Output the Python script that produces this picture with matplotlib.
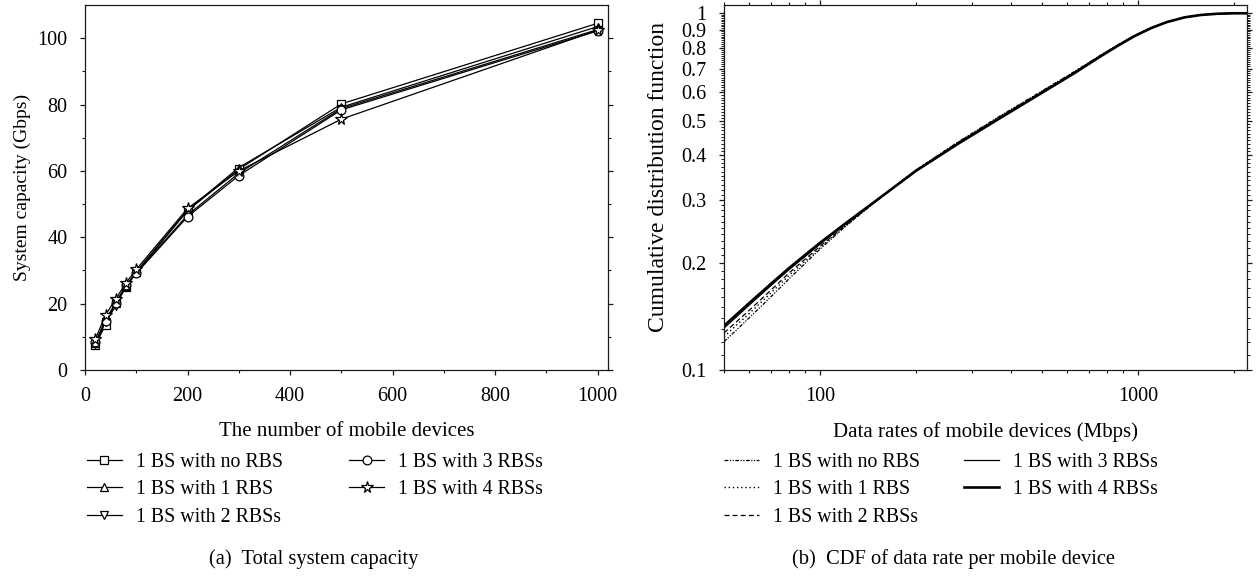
"""
重現兩張子圖：(a) 系統總容量，(b) 每個行動裝置資料率的 CDF。
"""

import matplotlib
matplotlib.use("Agg")
import matplotlib.pyplot as plt
import numpy as np
from matplotlib.ticker import FixedLocator, FixedFormatter, NullFormatter

plt.rcParams["font.family"] = ["Liberation Serif", "DejaVu Serif"]

# ---- (a) 系統總容量資料 ----
devices = [20, 40, 60, 80, 100, 200, 300, 500, 1000]
cap_no_rbs = [7.5, 13.6, 20.6, 24.9, 29.4, 48.0, 60.5, 80.2, 104.5]
cap_1_rbs = [8.0, 15.2, 20.2, 25.4, 29.6, 48.2, 61.0, 79.2, 103.5]
cap_2_rbs = [7.9, 14.4, 19.3, 25.2, 29.3, 46.7, 59.3, 78.8, 102.6]
cap_3_rbs = [8.3, 14.9, 20.1, 25.6, 29.1, 46.2, 58.6, 78.4, 102.2]
cap_4_rbs = [9.2, 16.6, 21.4, 26.3, 30.3, 48.7, 60.0, 75.6, 102.4]

# ---- (b) 資料率 CDF ----
rates = [50, 60, 70, 80, 100, 120, 150, 200, 270, 360, 475, 630, 760, 870,
         970, 1100, 1233, 1400, 1570, 1775, 2000, 2200]
cdf_no_rbs = [0.120, 0.140, 0.160, 0.180, 0.218, 0.252, 0.297, 0.363, 0.434,
              0.509, 0.590, 0.686, 0.762, 0.819, 0.865, 0.912, 0.947, 0.974,
              0.989, 0.997, 1.0, 1.0]
cdf_1_rbs = [0.124, 0.144, 0.164, 0.184, 0.220, 0.253, 0.297, 0.363, 0.433,
             0.507, 0.588, 0.684, 0.760, 0.817, 0.864, 0.911, 0.947, 0.974,
             0.989, 0.997, 1.0, 1.0]
cdf_2_rbs = [0.127, 0.147, 0.167, 0.187, 0.222, 0.254, 0.297, 0.362, 0.432,
             0.506, 0.587, 0.683, 0.759, 0.816, 0.863, 0.910, 0.946, 0.974,
             0.989, 0.997, 1.0, 1.0]
cdf_3_rbs = [0.131, 0.152, 0.172, 0.191, 0.225, 0.256, 0.298, 0.362, 0.430,
             0.503, 0.584, 0.680, 0.757, 0.815, 0.862, 0.910, 0.946, 0.974,
             0.989, 0.997, 1.0, 1.0]
cdf_4_rbs = [0.133, 0.154, 0.174, 0.193, 0.227, 0.257, 0.298, 0.361, 0.429,
             0.502, 0.583, 0.679, 0.756, 0.814, 0.861, 0.909, 0.945, 0.974,
             0.989, 0.997, 1.0, 1.0]

labels = ["1 BS with no RBS", "1 BS with 1 RBS", "1 BS with 2 RBSs",
          "1 BS with 3 RBSs", "1 BS with 4 RBSs"]
cap_markers = ["s", "^", "v", "o", "*"]
cdf_styles = [((0, (3, 1.2, 1, 1.2, 1, 1.2)), 0.9), ((0, (1, 2)), 1.0),
              ((0, (4, 2.5)), 0.9), ("-", 0.9), ("-", 1.9)]

FS = 14.5
INK = "#1a1a1a"


def style_axes(ax):
    """統一框線與刻度樣式。"""
    for sp in ax.spines.values():
        sp.set_linewidth(0.9)
        sp.set_color(INK)
    ax.tick_params(which="both", direction="out", colors=INK,
                   labelsize=FS, labelcolor="black", pad=9)
    ax.tick_params(which="major", length=3.5, width=0.9)
    ax.tick_params(which="minor", length=2.2, width=0.8)


fig = plt.figure(figsize=(12.59, 5.76), dpi=100)

# (a)
ax1 = fig.add_axes([85 / 1259, 1 - 370 / 576, 523 / 1259, 365 / 576])
series_a = [cap_no_rbs, cap_1_rbs, cap_2_rbs, cap_3_rbs, cap_4_rbs]
handles_a = []
for vals, mk, lab in zip(series_a, cap_markers, labels):
    ms = 8.5 if mk == "*" else 6.3
    h, = ax1.plot(devices, vals, color="black", lw=0.9, marker=mk,
                  markersize=ms, markerfacecolor="white",
                  markeredgecolor="black", markeredgewidth=0.9, label=lab)
    handles_a.append(h)
ax1.set_xlim(0, 1020)
ax1.set_ylim(0, 110)
ax1.set_xticks([0, 200, 400, 600, 800, 1000])
ax1.set_xticks(np.arange(100, 1000, 200), minor=True)
ax1.set_yticks([0, 20, 40, 60, 80, 100])
ax1.set_yticks(np.arange(10, 110, 20), minor=True)
style_axes(ax1)
ax1.tick_params(which="both", right=True, top=False)
ax1.set_xlabel("The number of mobile devices", fontsize=15, labelpad=11)
ax1.set_ylabel("System capacity (Gbps)", fontsize=14, labelpad=5)

# (b)
ax2 = fig.add_axes([724 / 1259, 1 - 370 / 576, 523 / 1259, 365 / 576])
series_b = [cdf_no_rbs, cdf_1_rbs, cdf_2_rbs, cdf_3_rbs, cdf_4_rbs]
handles_b = []
for vals, (ls, lw), lab in zip(series_b, cdf_styles, labels):
    h, = ax2.plot(rates, vals, color="black", ls=ls, lw=lw, label=lab)
    handles_b.append(h)
ax2.set_xscale("log")
ax2.set_yscale("log")
ax2.set_xlim(50, 2200)
ax2.set_ylim(0.1, 1.055)
ax2.xaxis.set_major_locator(FixedLocator([100, 1000]))
ax2.xaxis.set_major_formatter(FixedFormatter(["100", "1000"]))
ax2.xaxis.set_minor_locator(FixedLocator(
    [50, 60, 70, 80, 90, 200, 300, 400, 500, 600, 700, 800, 900, 2000]))
ax2.xaxis.set_minor_formatter(NullFormatter())
y_major = [0.1, 0.2, 0.3, 0.4, 0.5, 0.6, 0.7, 0.8, 0.9, 1.0]
ax2.yaxis.set_major_locator(FixedLocator(y_major))
ax2.yaxis.set_major_formatter(FixedFormatter(
    ["0.1", "0.2", "0.3", "0.4", "0.5", "0.6", "0.7", "0.8", "0.9", "1"]))
y_minor = [v / 100 for v in range(11, 100) if v % 10 != 0]
ax2.yaxis.set_minor_locator(FixedLocator(y_minor))
ax2.yaxis.set_minor_formatter(NullFormatter())
style_axes(ax2)
ax2.tick_params(which="both", right=True, top=True)
ax2.tick_params(axis="y", which="minor", length=2.5, width=0.7)
ax2.set_xlabel("Data rates of mobile devices (Mbps)", fontsize=15,
               labelpad=11)
ax2.set_ylabel("Cumulative distribution function", fontsize=17)
ax2.yaxis.set_label_coords(-0.105, 0.53)

# 圖例放在各子圖下方，兩欄。
leg_kw = dict(ncol=2, frameon=False, fontsize=14.3, loc="upper left",
              borderpad=0, borderaxespad=0, labelspacing=0.42,
              handlelength=1.75, handletextpad=0.7)
fig.legend(handles=handles_a, bbox_to_anchor=(87 / 1259, 1 - 453 / 576),
           columnspacing=3.35, **leg_kw)
fig.legend(handles=handles_b, bbox_to_anchor=(724 / 1259, 1 - 453 / 576),
           columnspacing=2.25, **leg_kw)

fig.text(314 / 1259, 1 - 559 / 576, "(a)  Total system capacity",
         fontsize=14.8, ha="center", va="center")
fig.text(953 / 1259, 1 - 559 / 576, "(b)  CDF of data rate per mobile device",
         fontsize=14.8, ha="center", va="center")

fig.savefig("out.png", dpi=100)
plt.close(fig)
